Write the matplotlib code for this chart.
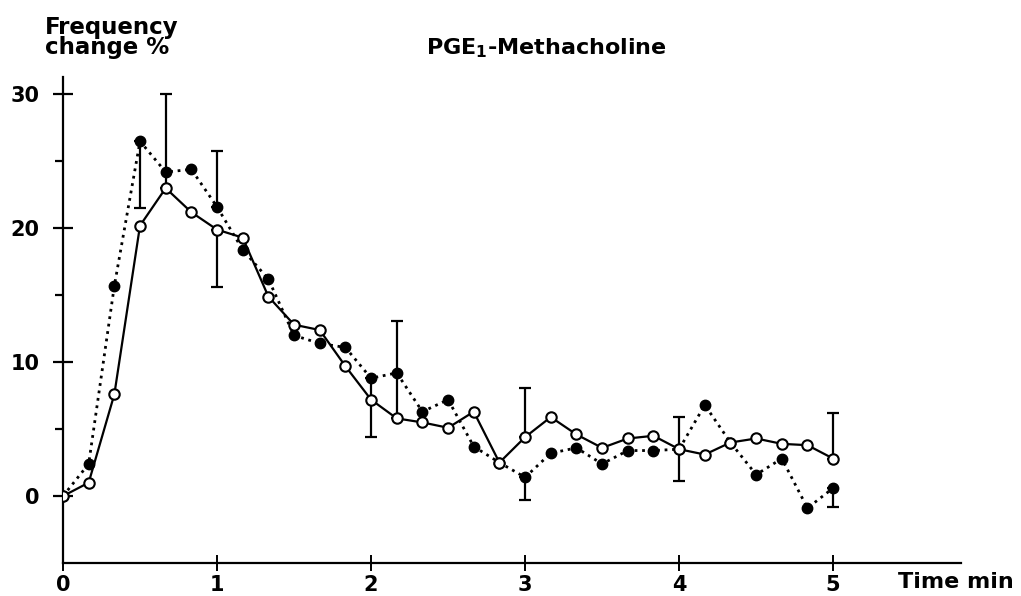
import matplotlib
matplotlib.use('Agg')
import matplotlib.pyplot as plt
import numpy as np

plt.rcParams['font.family'] = 'DejaVu Sans'
plt.rcParams['font.weight'] = 'bold'
plt.rcParams['mathtext.fontset'] = 'custom'
plt.rcParams['mathtext.rm'] = 'DejaVu Sans:bold'
plt.rcParams['mathtext.bf'] = 'DejaVu Sans:bold'

# time in minutes, one sample every 10 s
time_min = np.arange(31) / 6.0

# open circles, solid line
open_vals = [0.0, 1.0, 7.6, 20.2, 23.0, 21.2, 19.9, 19.3, 14.9, 12.8, 12.4,
             9.7, 7.2, 5.8, 5.5, 5.1, 6.3, 2.5, 4.4, 5.9, 4.6,
             3.6, 4.3, 4.5, 3.5, 3.1, 4.0, 4.3, 3.9, 3.8, 2.8]

# filled circles, dotted line
filled_vals = [0.0, 2.4, 15.7, 26.5, 24.2, 24.4, 21.6, 18.4, 16.2, 12.0, 11.4,
               11.1, 8.8, 9.2, 6.3, 7.2, 3.7, 2.5, 1.4, 3.2, 3.6,
               2.4, 3.4, 3.4, 3.5, 6.8, 4.0, 1.6, 2.8, -0.9, 0.6]

# one-sided SEM bars (sample index, lower, upper)
open_err_idx = [4, 6, 13, 18, 24, 30]
open_err_lo = [0, 4.3, 0, 0, 2.4, 0]
open_err_hi = [7.0, 0, 7.3, 3.7, 2.4, 3.4]

filled_err_idx = [3, 6, 12, 18, 30]
filled_err_lo = [5.0, 0, 4.4, 1.7, 1.4]
filled_err_hi = [0, 4.2, 0, 0, 0]

x_ticks = [0, 1, 2, 3, 4, 5]
y_ticks = [0, 10, 20, 30]
y_minor = [5, 15, 25]

fig = plt.figure(figsize=(10.21, 5.96), dpi=100)
ax = fig.add_axes([63 / 1021, 33 / 596, 898 / 1021, 486 / 596])

t = np.asarray(time_min)

# error bars
ax.errorbar(t[open_err_idx], np.asarray(open_vals)[open_err_idx],
            yerr=[open_err_lo, open_err_hi], fmt='none', ecolor='black',
            elinewidth=1.6, capsize=4.5, capthick=1.6, zorder=2)
ax.errorbar(t[filled_err_idx], np.asarray(filled_vals)[filled_err_idx],
            yerr=[filled_err_lo, filled_err_hi], fmt='none', ecolor='black',
            elinewidth=1.6, capsize=4.5, capthick=1.6, zorder=2)

ax.plot(t, filled_vals, linestyle=(0, (1, 1.7)), color='black', linewidth=2.0,
        marker='o', markersize=7.5, markerfacecolor='black',
        markeredgecolor='black', zorder=3)
ax.plot(t, open_vals, linestyle='-', color='black', linewidth=1.6,
        marker='o', markersize=7.5, markerfacecolor='white',
        markeredgecolor='black', markeredgewidth=1.5, zorder=4)

ax.set_xlim(0, 5.83)
ax.set_ylim(-5, 31.3)

for side in ['top', 'right']:
    ax.spines[side].set_visible(False)
for side in ['left', 'bottom']:
    ax.spines[side].set_linewidth(1.6)

ax.set_xticks(x_ticks)
ax.set_yticks(y_ticks)
ax.set_yticks(y_minor, minor=True)
ax.tick_params(axis='y', which='major', direction='inout', length=14, width=1.6,
               labelsize=15, pad=10)
ax.tick_params(axis='y', which='minor', direction='out', length=6, width=1.6)
ax.tick_params(axis='x', which='major', direction='inout', length=11, width=1.4,
               labelsize=15, pad=3)
for lab in ax.get_xticklabels() + ax.get_yticklabels():
    lab.set_fontweight('bold')

fig.text(898 / 1021, 1 - 582 / 596, 'Time min', fontsize=16,
         fontweight='bold', ha='left', va='center')
fig.text(45 / 1021, 1 - 16 / 596, 'Frequency\nchange %', fontsize=16.5,
         fontweight='bold', ha='left', va='top', linespacing=0.85)
fig.text(546 / 1021, 1 - 48 / 596, r'PGE$_{1}$-Methacholine', fontsize=16,
         fontweight='bold', ha='center', va='center')

fig.savefig('out.png', dpi=100, facecolor='white')
